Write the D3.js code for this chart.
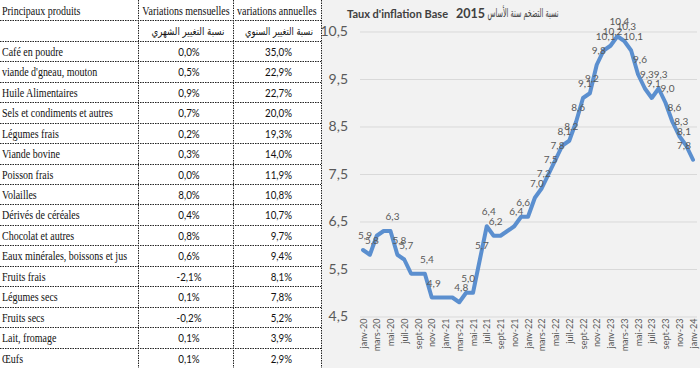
<!DOCTYPE html>
<html>
<head>
<meta charset="utf-8">
<script src="https://cdn.jsdelivr.net/npm/d3@7"></script>
<style>
  body { margin: 0; background: #fff; }
  svg { display: block; }
</style>
</head>
<body>
<div id="chart"></div>
<script>
// ---- table data ----
const headers = ["Principaux produits", "Variations mensuelles", "variations annuelles"];
const arabicHeaders = ["نسبة التغيير الشهري", "نسبة التغيير السنوي"];
const products = ["Café en poudre", "viande d'gneau, mouton", "Huile Alimentaires",
  "Sels et condiments et autres", "Légumes frais", "Viande bovine", "Poisson frais",
  "Volailles", "Dérivés de céréales", "Chocolat et autres", "Eaux minérales, boissons et jus",
  "Fruits frais", "Légumes secs", "Fruits secs", "Lait, fromage", "Œufs"];
const monthlyChange = [0.0, 0.5, 0.9, 0.7, 0.2, 0.3, 0.0, 8.0, 0.4, 0.8, 0.6, -2.1, 0.1, -0.2, 0.1, 0.1];
const annualChange = [35.0, 22.9, 22.7, 20.0, 19.3, 14.0, 11.9, 10.8, 10.7, 9.7, 9.4, 8.1, 7.8, 5.2, 3.9, 2.9];

// ---- chart data ----
const chartTitle = "Taux d'inflation Base";
const titleYear = "2015";
const titleArabic = "نسبة التضخم سنة الأساس";
const months = [
  "janv-20","févr-20","mars-20","avr-20","mai-20","juin-20","juil-20","août-20","sept-20","oct-20","nov-20","déc-20",
  "janv-21","févr-21","mars-21","avr-21","mai-21","juin-21","juil-21","août-21","sept-21","oct-21","nov-21","déc-21",
  "janv-22","févr-22","mars-22","avr-22","mai-22","juin-22","juil-22","août-22","sept-22","oct-22","nov-22","déc-22",
  "janv-23","févr-23","mars-23","avr-23","mai-23","juin-23","juil-23","août-23","sept-23","oct-23","nov-23","déc-23",
  "janv-24"];
const inflation = [5.9, 5.8, 6.2, 6.3, 6.3, 5.8, 5.7, 5.4, 5.4, 5.4,
  4.9, 4.9, 4.9, 4.9, 4.8, 5.0, 5.0, 5.7, 6.4, 6.2,
  6.2, 6.3, 6.4, 6.6, 6.6, 7.0, 7.2, 7.5, 7.8, 8.1,
  8.2, 8.6, 9.1, 9.2, 9.8, 10.1, 10.2, 10.4, 10.3, 10.1,
  9.6, 9.3, 9.1, 9.3, 9.0, 8.6, 8.3, 8.1, 7.8];
// points that carry a data label in the original
const labelled = [0, 1, 4, 5, 6, 9, 10, 14, 15, 17, 18, 19, 22, 23,
  25, 26, 27, 28, 29, 30, 31, 32, 33, 34, 35, 36, 37, 38, 39, 40, 41, 42, 43, 44, 45, 46, 47, 48];
const xTicks = ["janv-20","mars-20","mai-20","juil-20","sept-20","nov-20",
  "janv-21","mars-21","mai-21","juil-21","sept-21","nov-21",
  "janv-22","mars-22","mai-22","juil-22","sept-22","nov-22",
  "janv-23","mars-23","mai-23","juil-23","sept-23","nov-23","janv-24"];
const yTicks = [4.5, 5.5, 6.5, 7.5, 8.5, 9.5, 10.5];

const fr = d3.formatLocale({decimal: ",", thousands: " ", grouping: [3], currency: ["", " €"], minus: "-"});
const fmt = fr.format(".1f");

let width = 700;
let height = 368;
let svg = d3.select("#chart").append("svg")
    .attr("width", width)
    .attr("height", height)
    .style("font-family", "Lato, sans-serif");

// ================= table =================
let rowH = height / 18;
let colX = [0, 138, 233, 321];
let sx = 0.8;   // the scanned table is squeezed horizontally

let table = svg.append("g");

table.selectAll(".hline")
    .data(d3.range(1, 18))
    .join("line")
    .attr("x1", 0).attr("x2", colX[3])
    .attr("y1", d => Math.round(d * rowH) + 0.5)
    .attr("y2", d => Math.round(d * rowH) + 0.5)
    .attr("stroke", "#222").attr("stroke-dasharray", "1.5,1");

table.selectAll(".vline")
    .data(colX.slice(1))
    .join("line")
    .attr("x1", d => d + 0.5).attr("x2", d => d + 0.5)
    .attr("y1", 0).attr("y2", height)
    .attr("stroke", "#222").attr("stroke-dasharray", "1.5,1");

function cell(txt, x, row, anchor, opts) {
    opts = opts || {};
    let t = table.append("text")
        .attr("transform", `translate(${x},${row * rowH + 15}) scale(${opts.sx || sx},1)`)
        .attr("text-anchor", anchor)
        .attr("font-family", opts.font || "'Liberation Serif', 'Times New Roman', serif")
        .attr("font-size", opts.size || 12.5)
        .attr("fill", "#111")
        .text(txt);
    if (opts.len) t.attr("textLength", opts.len).attr("lengthAdjust", "spacingAndGlyphs");
    return t;
}

cell(headers[0], 2, 0, "start");
cell(headers[1], 186, 0, "middle");
cell(headers[2], 237, 0, "start");
cell(arabicHeaders[0], 188, 1, "middle", {font: "'DejaVu Sans'", size: 10.5, sx: 1, len: 73});
cell(arabicHeaders[1], 279, 1, "middle", {font: "'DejaVu Sans'", size: 10.5, sx: 1, len: 68});

products.forEach((p, i) => {
    cell(p, 2, i + 2, "start");
    cell(fmt(monthlyChange[i]) + "%", 189, i + 2, "middle", {font: "Lato, sans-serif", size: 11.5, sx: 0.85});
    cell(fmt(annualChange[i]) + "%", 292, i + 2, "end", {font: "Lato, sans-serif", size: 11.5, sx: 0.85});
});

// ================= chart =================
let panelX = 322;
svg.append("rect")
    .attr("x", panelX).attr("y", 0)
    .attr("width", width - panelX).attr("height", height)
    .attr("fill", "#f2f2f2");

let x = d3.scalePoint().domain(months).range([363, 693]);
let y = d3.scaleLinear().domain([4.5, 10.5]).range([316.5, 31.5]);

let gridLeft = 360, gridRight = 697;

let yAxis = svg.append("g")
    .attr("transform", `translate(${gridLeft},0)`)
    .call(d3.axisLeft(y).tickValues(yTicks).tickFormat(fmt)
        .tickSize(-(gridRight - gridLeft)).tickPadding(12));
yAxis.select(".domain").remove();
yAxis.selectAll("line").attr("stroke", "#d9d9d9").attr("stroke-width", 1);
yAxis.selectAll("text")
    .attr("fill", "#595959")
    .attr("font-size", 14)
    .attr("font-family", "Lato, sans-serif");

let xAxis = svg.append("g")
    .attr("transform", `translate(0,${y(4.5)})`)
    .call(d3.axisBottom(x).tickValues(xTicks).tickSize(0));
xAxis.select(".domain").remove();
xAxis.selectAll("text")
    .attr("transform", "rotate(-90)")
    .attr("x", -2).attr("y", 0).attr("dy", "0.35em")
    .attr("text-anchor", "end")
    .attr("fill", "#595959")
    .attr("font-size", 9)
    .attr("font-family", "Lato, sans-serif");

let line = d3.line()
    .x((d, i) => x(months[i]))
    .y(d => y(d));

svg.append("path")
    .datum(inflation)
    .attr("d", line)
    .attr("fill", "none")
    .attr("stroke", "#5b8fcf")
    .attr("stroke-width", 4)
    .attr("stroke-linejoin", "round")
    .attr("stroke-linecap", "round");

svg.append("g")
    .selectAll("text")
    .data(labelled)
    .join("text")
    .attr("x", i => Math.min(x(months[i]) + 2, 684))
    .attr("y", i => y(inflation[i]) - 11)
    .attr("text-anchor", "middle")
    .attr("font-size", 10)
    .attr("fill", "#595959")
    .text(i => fmt(inflation[i]));

// title
svg.append("text")
    .attr("x", 347).attr("y", 18)
    .attr("font-size", 11).attr("font-weight", "bold").attr("fill", "#404040")
    .text(chartTitle);
svg.append("text")
    .attr("x", 456).attr("y", 18)
    .attr("font-size", 12.5).attr("font-weight", "bold").attr("fill", "#404040")
    .text(titleYear);
svg.append("text")
    .attr("x", 523).attr("y", 17)
    .attr("text-anchor", "middle")
    .attr("font-family", "'DejaVu Sans'")
    .attr("font-size", 12).attr("fill", "#404040")
    .attr("textLength", 71).attr("lengthAdjust", "spacingAndGlyphs")
    .text(titleArabic);
</script>
</body>
</html>
